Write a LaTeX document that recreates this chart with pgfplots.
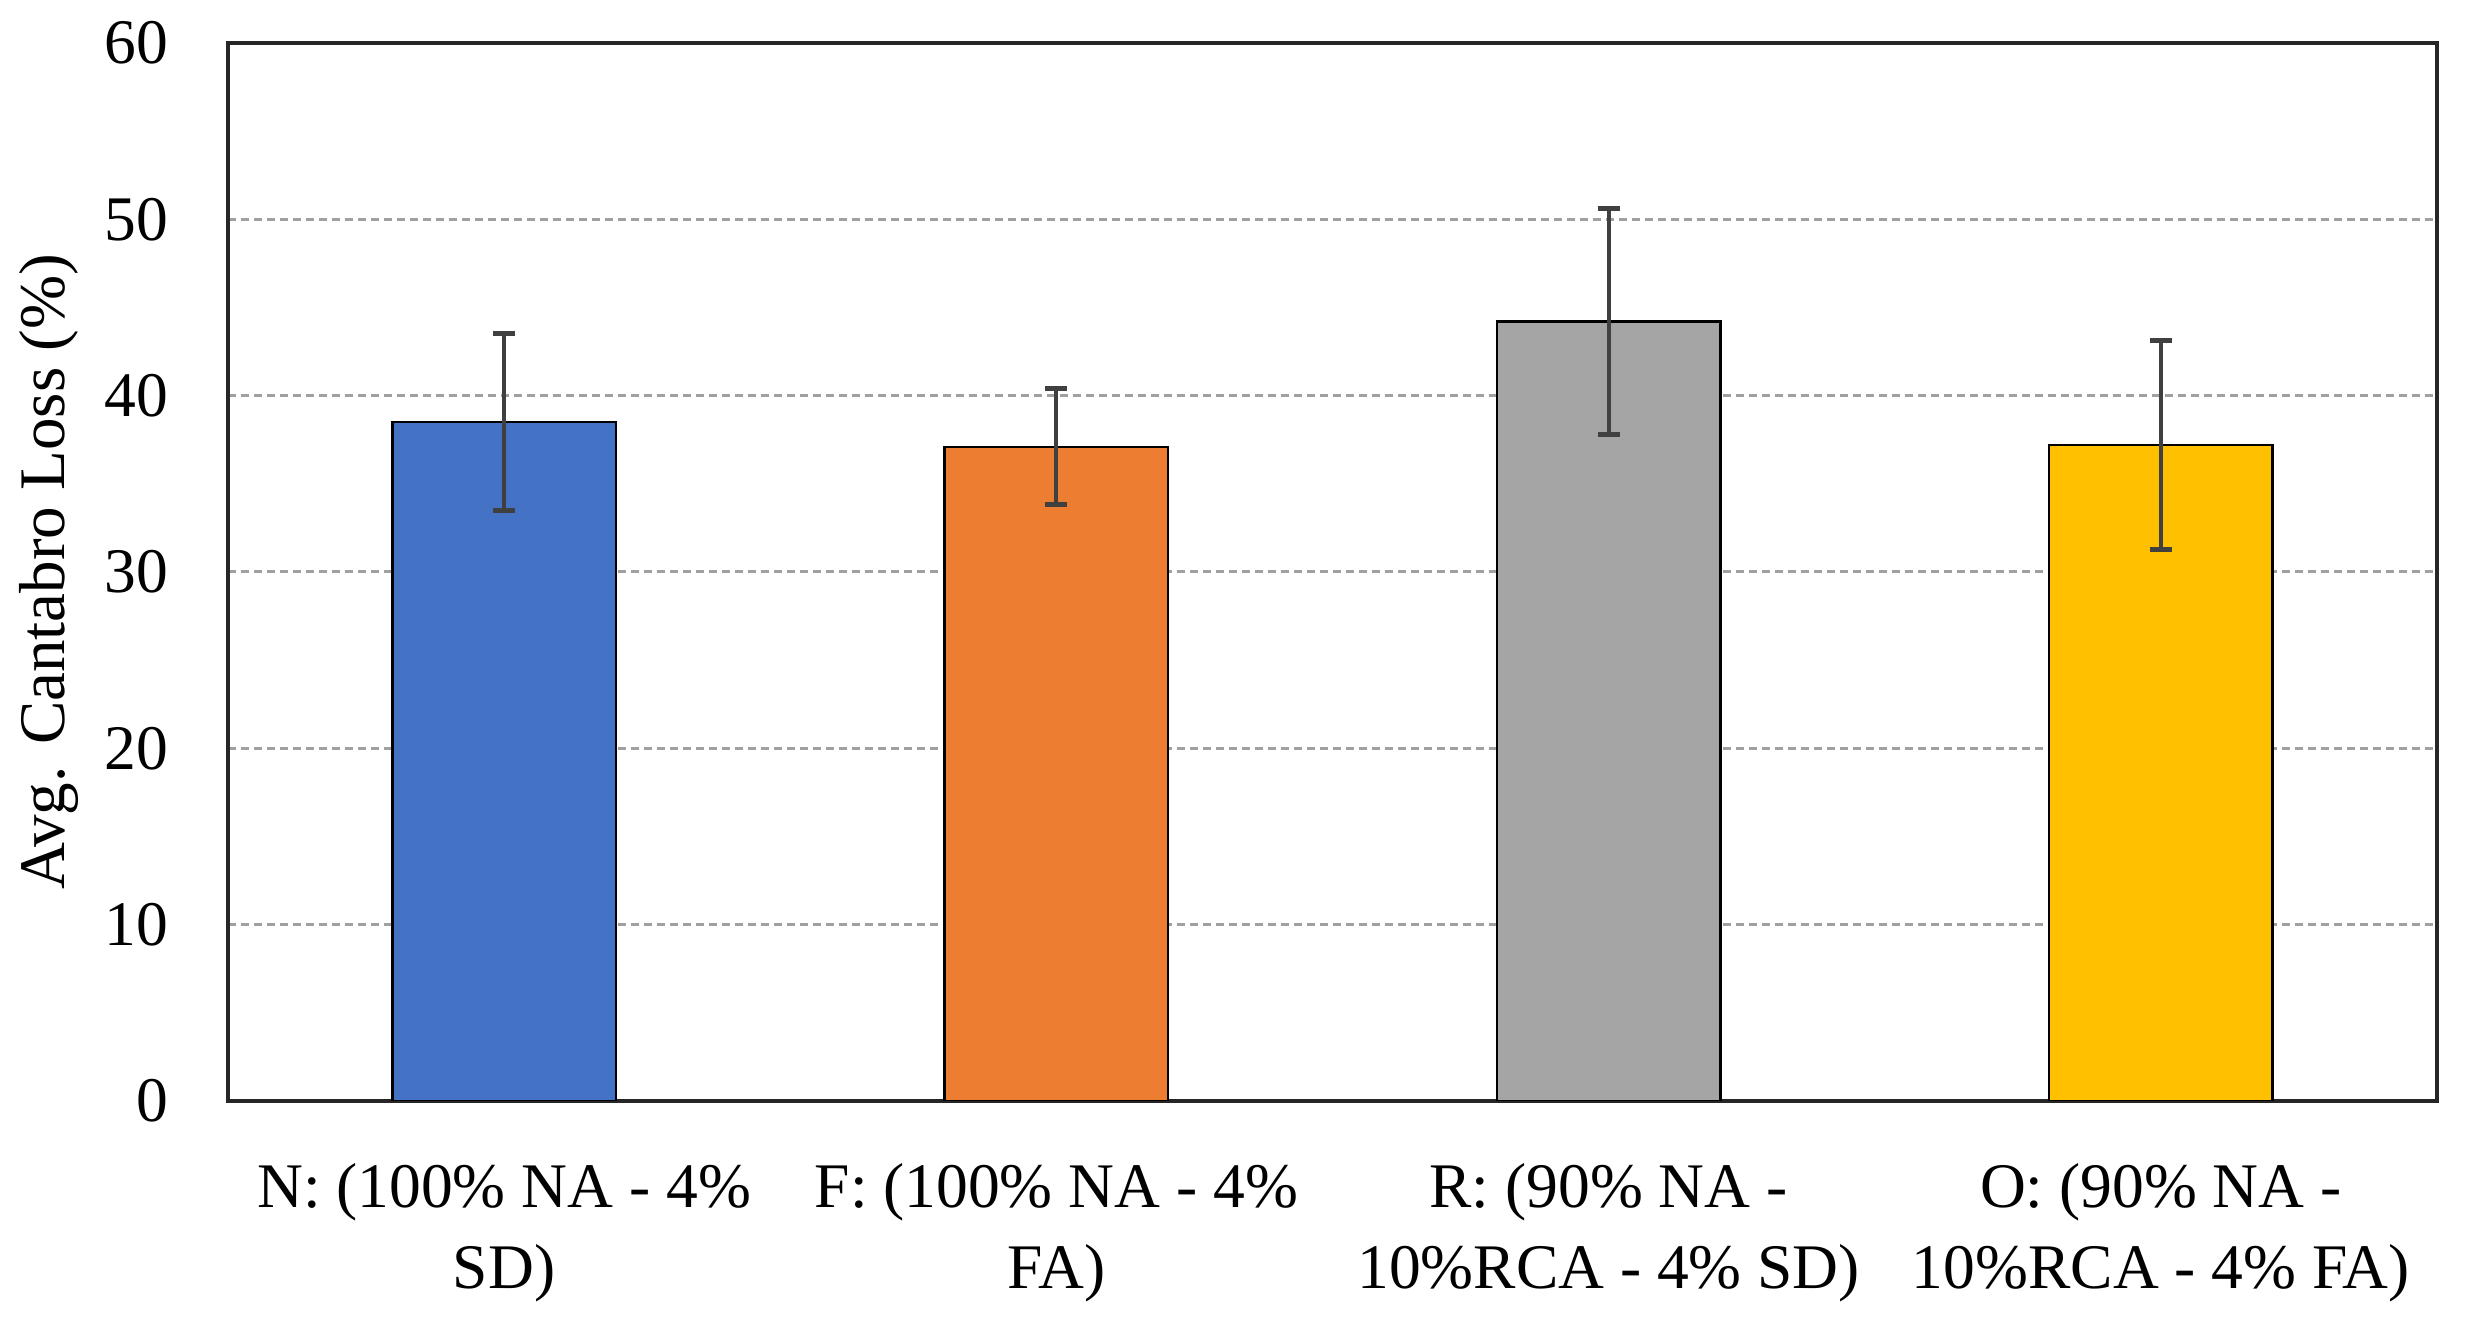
\documentclass[border=0pt]{standalone}
\usepackage{fontspec}
\setmainfont{Liberation Serif}
\usepackage{pgfplots}
\pgfplotsset{compat=1.18}

\definecolor{barblue}{HTML}{4472C4}
\definecolor{barorange}{HTML}{ED7D31}
\definecolor{bargray}{HTML}{A5A5A5}
\definecolor{bargold}{HTML}{FFC000}
\definecolor{errgray}{HTML}{404040}
\definecolor{gridgray}{HTML}{A0A0A0}

\begin{document}
\begin{tikzpicture}
\begin{axis}[
    scale only axis,
    width=441.8pt, height=211.6pt,
    ybar, bar width=0.405,
    xmin=-0.5, xmax=3.5,
    ymin=0, ymax=60,
    xtick={0,1,2,3},
    xticklabels={{N: (100\% NA - 4\%\\SD)},
                 {F: (100\% NA - 4\%\\FA)},
                 {R: (90\% NA -\\10\%RCA - 4\% SD)},
                 {O: (90\% NA -\\10\%RCA - 4\% FA)}},
    ytick={0,10,...,60},
    major tick length=0pt,
    /pgf/number format/assume math mode=true,
    tick label style={font={\fontsize{12.7}{16.2}\selectfont}},
    xticklabel style={align=center, anchor=north, yshift=-8.9pt},
    yticklabel style={xshift=-8.5pt},
    ymajorgrids,
    grid style={gridgray, line width=0.6pt, dash pattern=on 1.6pt off 1.0pt},
    axis line style={black!85, line width=0.7pt},
    ylabel={Avg. Cantabro Loss (\%)},
    every axis y label/.style={at={(axis description cs:0,0.5)}, xshift=-35.8pt,
        rotate=90, anchor=center, font={\fontsize{13}{15}\selectfont}},
    error bars/y dir=both,
    error bars/y explicit,
    error bars/error bar style={errgray, line width=0.8pt},
    error bars/error mark options={rotate=90, mark size=2.2pt, errgray, line width=1pt},
]
\addplot[fill=barblue, draw=black, line width=0.5pt, bar shift=0pt]
    coordinates {(0,38.5) +- (0,5.0)};
\addplot[fill=barorange, draw=black, line width=0.5pt, bar shift=0pt]
    coordinates {(1,37.1) +- (0,3.3)};
\addplot[fill=bargray, draw=black, line width=0.5pt, bar shift=0pt]
    coordinates {(2,44.2) +- (0,6.4)};
\addplot[fill=bargold, draw=black, line width=0.5pt, bar shift=0pt]
    coordinates {(3,37.2) +- (0,5.95)};
\coordinate (sw) at (rel axis cs:0,0);
\coordinate (ne) at (rel axis cs:1,1);
\end{axis}
\pgfresetboundingbox
\useasboundingbox ([xshift=-45.6pt,yshift=-45.4pt]sw) rectangle ([xshift=5.8pt,yshift=8.6pt]ne);
\end{tikzpicture}
\end{document}
